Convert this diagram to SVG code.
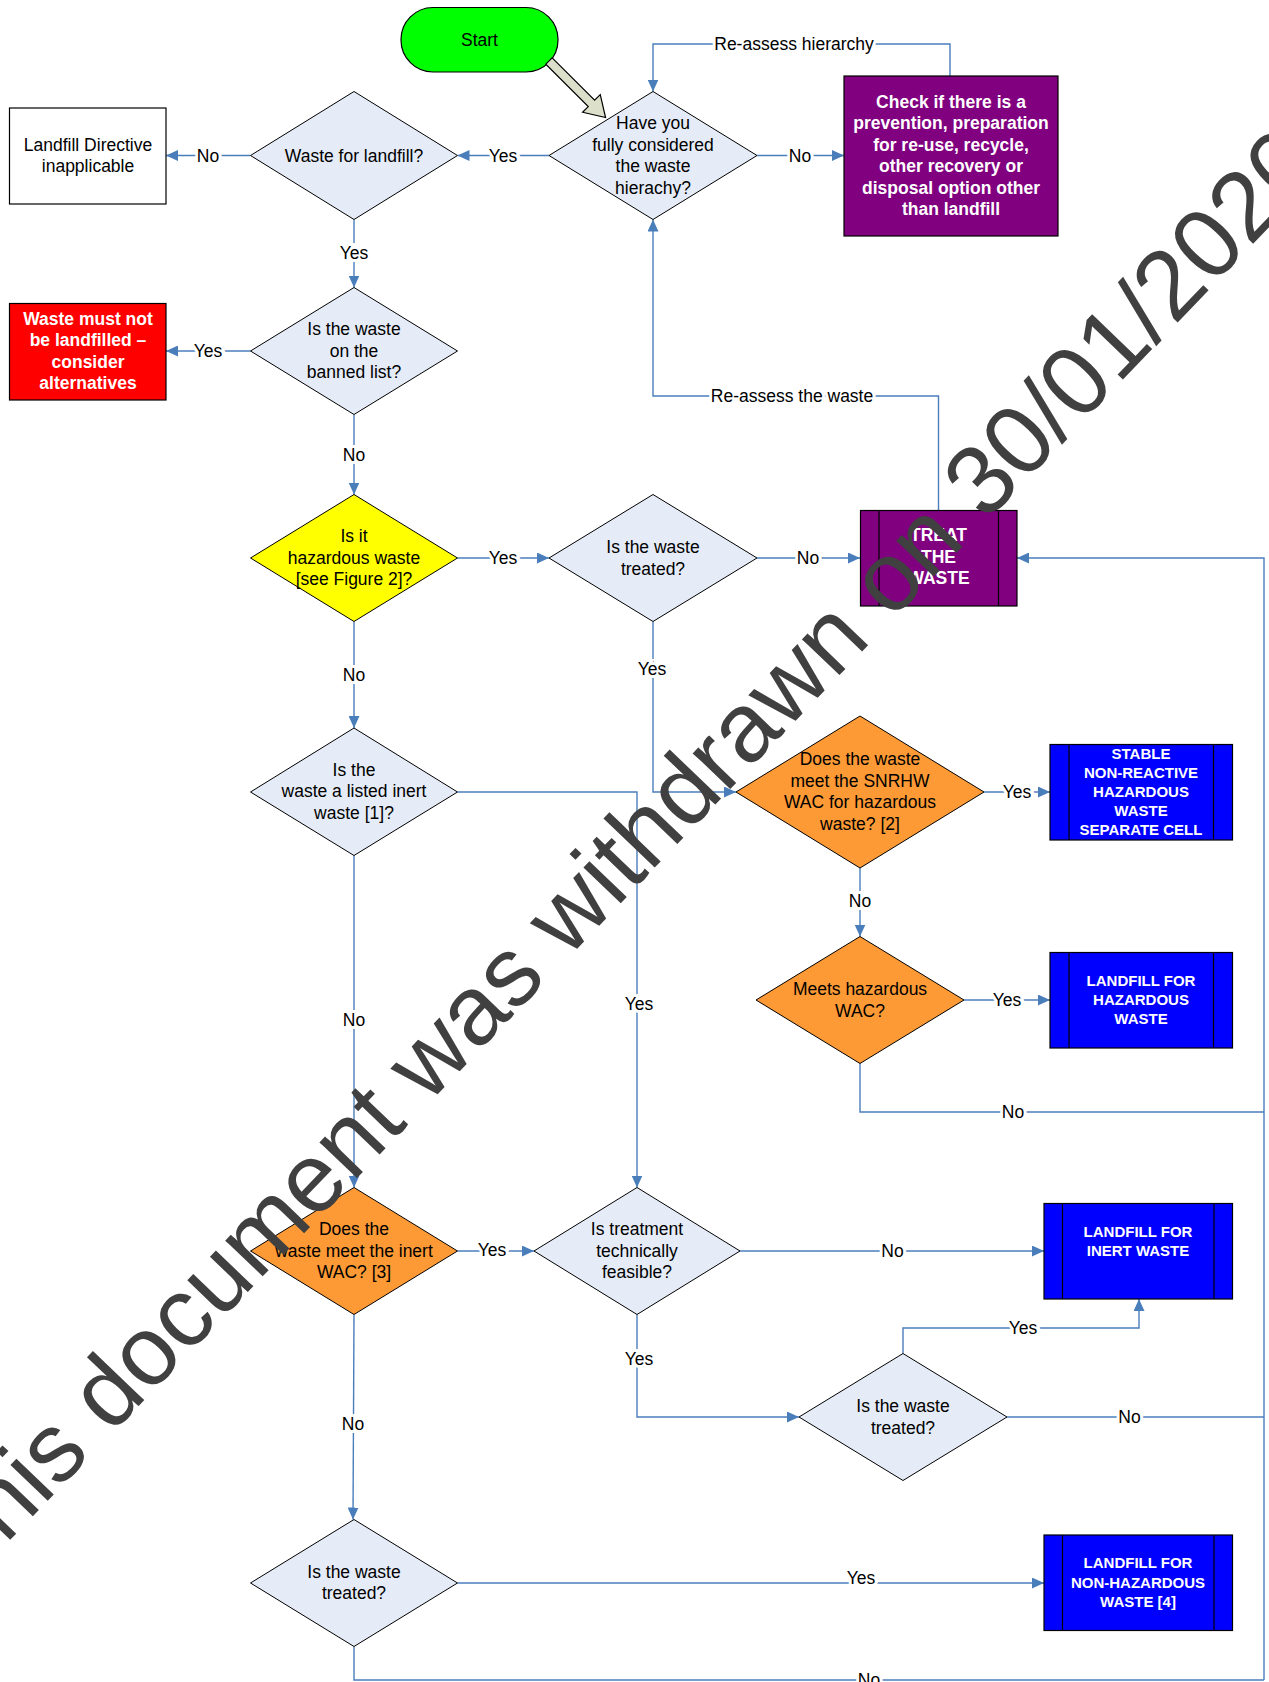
<svg xmlns="http://www.w3.org/2000/svg" width="1269" height="1682" viewBox="0 0 1269 1682">
<defs>
<style>
.t{font-family:"Liberation Sans",Arial,sans-serif;font-size:17.5px;fill:#000;text-anchor:middle}
.w{font-weight:bold;fill:#fff}
.s15{font-size:15px}
.dia{fill:#e6ecf7;stroke:#000;stroke-width:1}
.or{fill:#fd9a35}
.box{stroke:#000;stroke-width:1.2}
.in{stroke:#000;stroke-width:1.2}
.c{fill:none;stroke:#4a7ebb;stroke-width:1.4}
.a{marker-end:url(#ah)}
.lbl{font-family:"Liberation Sans",Arial,sans-serif;font-size:17.5px;fill:#000;text-anchor:middle;stroke:#fff;stroke-width:6;paint-order:stroke}
</style>
<marker id="ah" viewBox="0 0 12 11" refX="12" refY="5.5" markerWidth="12" markerHeight="11" markerUnits="userSpaceOnUse" orient="auto">
<path d="M0,0 L12,5.5 L0,11 z" fill="#4a7ebb"/>
</marker>
</defs>
<rect width="1269" height="1682" fill="#fff"/>

<g id="connectors">
<path class="c a" d="M950,76 V44 H653 V91.5"/>
<path class="c a" d="M757,155.5 H844"/>
<path class="c a" d="M549,155.5 H457.5"/>
<path class="c a" d="M250.5,155.5 H166"/>
<path class="c a" d="M354,219.5 V287.5"/>
<path class="c a" d="M250.5,351 H166"/>
<path class="c a" d="M354,414.5 V494.5"/>
<path class="c a" d="M457.5,558 H549"/>
<path class="c a" d="M757,558 H860"/>
<path class="c a" d="M938.5,510.5 V396 H653 V219.5"/>
<path class="c a" d="M354,621.5 V728"/>
<path class="c a" d="M653,621.5 V792 H736"/>
<path class="c a" d="M984,792 H1050"/>
<path class="c a" d="M860,868 V936.5"/>
<path class="c a" d="M964,1000 H1050"/>
<path class="c" d="M860,1063.5 V1112 H1264"/>
<path class="c a" d="M1264,1680 V558 H1017"/>
<path class="c a" d="M457.5,792 H637 V1187.5"/>
<path class="c a" d="M354,855.5 V1187.5"/>
<path class="c a" d="M457.5,1251 H534"/>
<path class="c a" d="M740,1251 H1044"/>
<path class="c a" d="M637,1314.5 V1417 H799"/>
<path class="c a" d="M903,1353.5 V1328 H1139 V1299"/>
<path class="c" d="M1007,1417 H1264"/>
<path class="c a" d="M354,1314.5 L353,1519.5"/>
<path class="c a" d="M457.5,1583 H1044"/>
<path class="c" d="M354,1646.5 V1680 H1264"/>
<g id="labels">
<text class="lbl" x="794" y="50">Re-assess hierarchy</text>
<text class="lbl" x="800" y="161.5">No</text>
<text class="lbl" x="503" y="161.5">Yes</text>
<text class="lbl" x="208" y="161.5">No</text>
<text class="lbl" x="354" y="259">Yes</text>
<text class="lbl" x="208" y="357">Yes</text>
<text class="lbl" x="354" y="461">No</text>
<text class="lbl" x="503" y="564">Yes</text>
<text class="lbl" x="808" y="564">No</text>
<text class="lbl" x="792" y="402">Re-assess the waste</text>
<text class="lbl" x="354" y="680.5">No</text>
<text class="lbl" x="652" y="675">Yes</text>
<text class="lbl" x="1017" y="798">Yes</text>
<text class="lbl" x="860" y="907">No</text>
<text class="lbl" x="1007" y="1006">Yes</text>
<text class="lbl" x="1013" y="1118">No</text>
<text class="lbl" x="639" y="1010">Yes</text>
<text class="lbl" x="354" y="1026">No</text>
<text class="lbl" x="492" y="1256">Yes</text>
<text class="lbl" x="892.5" y="1257">No</text>
<text class="lbl" x="639" y="1365">Yes</text>
<text class="lbl" x="1023" y="1334">Yes</text>
<text class="lbl" x="1129.5" y="1423">No</text>
<text class="lbl" x="353" y="1429.5">No</text>
<text class="lbl" x="861" y="1584">Yes</text>
<text class="lbl" x="869" y="1686">No</text>
</g>
</g>

<g id="start">
<rect x="401" y="7.5" width="157" height="64.5" rx="32" fill="#00ff00" stroke="#000" stroke-width="1.2"/>
<text class="t" x="479.5" y="46">Start</text>
<path d="M0,-4.5 H60 V-12.5 L80,0 L60,12.5 V4.5 H0 z" transform="translate(549,61) rotate(45)" fill="#dcdfca" stroke="#000" stroke-width="1.2"/>
</g>

<g id="have">
<polygon class="dia" points="653,91.5 757,155.5 653,219.5 549,155.5"/>
<text class="t" x="653" y="129.3">Have you</text>
<text class="t" x="653" y="150.8">fully considered</text>
<text class="t" x="653" y="172.3">the waste</text>
<text class="t" x="653" y="193.7">hierachy?</text>
</g>

<g id="wfl">
<polygon class="dia" points="354,91.5 457.5,155.5 354,219.5 250.5,155.5"/>
<text class="t" x="354" y="161.5">Waste for landfill?</text>
</g>

<g id="landdir">
<rect class="box" x="9.5" y="108" width="156.5" height="96" fill="#fff"/>
<text class="t" x="88" y="150.8">Landfill Directive</text>
<text class="t" x="88" y="172.3">inapplicable</text>
</g>

<g id="check">
<rect class="box" x="844" y="76" width="214" height="160" fill="#800080"/>
<text class="t w" x="951" y="108">Check if there is a</text>
<text class="t w" x="951" y="129.4">prevention, preparation</text>
<text class="t w" x="951" y="150.8">for re-use, recycle,</text>
<text class="t w" x="951" y="172.3">other recovery or</text>
<text class="t w" x="951" y="193.7">disposal option other</text>
<text class="t w" x="951" y="215.2">than landfill</text>
</g>

<g id="banned">
<polygon class="dia" points="354,287.5 457.5,351 354,414.5 250.5,351"/>
<text class="t" x="354" y="335.3">Is the waste</text>
<text class="t" x="354" y="356.8">on the</text>
<text class="t" x="354" y="378.2">banned list?</text>
</g>

<g id="mustnot">
<rect class="box" x="9.5" y="303.5" width="156.5" height="96.5" fill="#ff0000"/>
<text class="t w" x="88" y="324.6">Waste must not</text>
<text class="t w" x="88" y="346">be landfilled –</text>
<text class="t w" x="88" y="367.5">consider</text>
<text class="t w" x="88" y="389">alternatives</text>
</g>

<g id="hazardous">
<polygon class="dia" points="354,494.5 457.5,558 354,621.5 250.5,558" style="fill:#ffff00"/>
<text class="t" x="354" y="542.4">Is it</text>
<text class="t" x="354" y="563.8">hazardous waste</text>
<text class="t" x="354" y="585.3">[see Figure 2]?</text>
</g>

<g id="treated1">
<polygon class="dia" points="653,494.5 757,558 653,621.5 549,558"/>
<text class="t" x="653" y="553">Is the waste</text>
<text class="t" x="653" y="574.5">treated?</text>
</g>

<g id="treat">
<rect class="box" x="860.5" y="510.5" width="156.5" height="95.5" fill="#800080"/>
<line class="in" x1="879" y1="510.5" x2="879" y2="606"/>
<line class="in" x1="998.5" y1="510.5" x2="998.5" y2="606"/>
<text class="t w" x="938.5" y="541.3">TREAT</text>
<text class="t w" x="938.5" y="562.7">THE</text>
<text class="t w" x="938.5" y="584.2">WASTE</text>
</g>

<g id="listed">
<polygon class="dia" points="354,728 457.5,792 354,855.5 250.5,792"/>
<text class="t" x="354" y="775.5">Is the</text>
<text class="t" x="354" y="797">waste a listed inert</text>
<text class="t" x="354" y="818.5">waste [1]?</text>
</g>

<g id="snrhw">
<polygon class="dia or" points="860,716 984,792 860,868 736,792"/>
<text class="t" x="860" y="765">Does the waste</text>
<text class="t" x="860" y="786.5">meet the SNRHW</text>
<text class="t" x="860" y="808">WAC for hazardous</text>
<text class="t" x="860" y="829.5">waste? [2]</text>
</g>

<g id="stable">
<rect class="box" x="1050" y="744.5" width="182.5" height="95.5" fill="#0000ff"/>
<line class="in" x1="1069" y1="744.5" x2="1069" y2="840"/>
<line class="in" x1="1213.5" y1="744.5" x2="1213.5" y2="840"/>
<text class="t w s15" x="1141" y="759">STABLE</text>
<text class="t w s15" x="1141" y="778">NON-REACTIVE</text>
<text class="t w s15" x="1141" y="797">HAZARDOUS</text>
<text class="t w s15" x="1141" y="816">WASTE</text>
<text class="t w s15" x="1141" y="835">SEPARATE CELL</text>
</g>

<g id="meets">
<polygon class="dia or" points="860,936.5 964,1000 860,1063.5 756,1000"/>
<text class="t" x="860" y="995">Meets hazardous</text>
<text class="t" x="860" y="1016.5">WAC?</text>
</g>

<g id="hazbox">
<rect class="box" x="1050" y="952.5" width="182.5" height="95.5" fill="#0000ff"/>
<line class="in" x1="1069" y1="952.5" x2="1069" y2="1048"/>
<line class="in" x1="1213.5" y1="952.5" x2="1213.5" y2="1048"/>
<text class="t w s15" x="1141" y="985.8">LANDFILL FOR</text>
<text class="t w s15" x="1141" y="1005">HAZARDOUS</text>
<text class="t w s15" x="1141" y="1024.3">WASTE</text>
</g>

<g id="inertwac">
<polygon class="dia or" points="354,1187.5 457.5,1251 354,1314.5 250.5,1251"/>
<text class="t" x="354" y="1235.3">Does the</text>
<text class="t" x="354" y="1256.8">waste meet the inert</text>
<text class="t" x="354" y="1278.3">WAC? [3]</text>
</g>

<g id="feasible">
<polygon class="dia" points="637,1187.5 740,1251 637,1314.5 534,1251"/>
<text class="t" x="637" y="1235.3">Is treatment</text>
<text class="t" x="637" y="1256.8">technically</text>
<text class="t" x="637" y="1278.3">feasible?</text>
</g>

<g id="inertbox">
<rect class="box" x="1044" y="1203.5" width="188.5" height="95.5" fill="#0000ff"/>
<line class="in" x1="1062.5" y1="1203.5" x2="1062.5" y2="1299"/>
<line class="in" x1="1214" y1="1203.5" x2="1214" y2="1299"/>
<text class="t w s15" x="1138" y="1236.8">LANDFILL FOR</text>
<text class="t w s15" x="1138" y="1256.1">INERT WASTE</text>
</g>

<g id="treated2">
<polygon class="dia" points="903,1353.5 1007,1417 903,1480.5 799,1417"/>
<text class="t" x="903" y="1412">Is the waste</text>
<text class="t" x="903" y="1433.5">treated?</text>
</g>

<g id="treated3">
<polygon class="dia" points="354,1519.5 457.5,1583 354,1646.5 250.5,1583"/>
<text class="t" x="354" y="1577.5">Is the waste</text>
<text class="t" x="354" y="1599">treated?</text>
</g>

<g id="nonhaz">
<rect class="box" x="1044" y="1535" width="188.5" height="95.5" fill="#0000ff"/>
<line class="in" x1="1062.5" y1="1535" x2="1062.5" y2="1630.5"/>
<line class="in" x1="1214" y1="1535" x2="1214" y2="1630.5"/>
<text class="t w s15" x="1138" y="1568.3">LANDFILL FOR</text>
<text class="t w s15" x="1138" y="1587.5">NON-HAZARDOUS</text>
<text class="t w s15" x="1138" y="1606.8">WASTE [4]</text>
</g>

<g id="watermark">
<text x="-36" y="1588" transform="rotate(-46.2 -36 1588)" font-family="'Liberation Sans',Arial,sans-serif" font-size="98" fill="#404040">This document was withdrawn on 30/01/2020</text>
</g>
</svg>
